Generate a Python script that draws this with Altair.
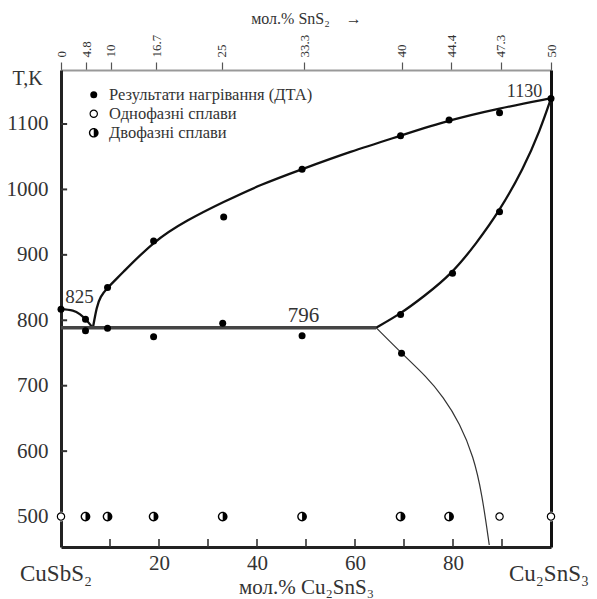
import altair as alt
import pandas as pd

# ---------------- data ----------------
# DTA results (filled dots): composition (mol.% Cu2SnS3) and temperature (K)
dta_x = [0, 5.0, 5.0, 9.5, 9.5, 18.9, 18.9, 33.2, 33.0, 49.2, 49.2, 69.3, 69.3, 69.5, 79.2, 79.9, 89.5, 89.5, 100]
dta_t = [817, 801.5, 784, 788, 850, 921, 775, 958, 795.4, 1031, 776.5, 1082, 809, 749.6, 1106, 872, 1117, 966, 1139]

# annealed alloys at 500 K
alloy_x = [0, 5.0, 9.5, 18.9, 33.0, 49.2, 69.3, 79.2, 89.5, 100]
alloy_t = [500, 500, 500, 500, 500, 500, 500, 500, 500, 500]
alloy_kind = ["one", "two", "two", "two", "two", "two", "two", "two", "one", "one"]

# thick phase-boundary curves
liq_x = [6.5, 7.3, 8.0, 9.5, 12.1, 18.9, 25.7, 33.2, 40.6, 49.2, 59.0, 69.3, 79.2, 89.5, 99.8]
liq_t = [788, 821, 836, 850, 869, 921, 953, 981, 1007, 1031, 1057.7, 1082, 1106, 1124, 1139]
left_x = [0, 2.4, 3.9, 5.0, 6.0, 6.5]
left_t = [817, 814.7, 809, 801.5, 793, 788]
sol_x = [64.3, 69.1, 74.0, 79.9, 84.8, 89.4, 94.4, 97.8, 100]
sol_t = [788.7, 809, 836, 872, 918, 966, 1032, 1091, 1139]
# horizontal invariant line (796)
hor_x = [0, 64.3]
hor_t = [788.5, 788.5]
# thin solvus curve
solv_x = [64.3, 69.5, 74.6, 78.0, 81.4, 84.2, 85.9, 87.4]
solv_t = [788.7, 749.6, 713.8, 683.2, 642.6, 591.5, 535.6, 456.6]

# axes
x_domain = [0, 100]
t_domain = [453.5, 1182.5]
bottom_labels = [20, 40, 60, 80]
bottom_ticks = [10, 20, 30, 40, 50, 60, 70, 80, 90]
left_labels = [500, 600, 700, 800, 900, 1000, 1100]
left_ticks = [600, 700, 800, 900, 1000, 1100]
top_pos = [0, 5.2, 10.2, 19.4, 32.8, 49.6, 69.5, 79.6, 89.7, 100]
top_text = ["0", "4.8", "10", "16.7", "25", "33.3", "40", "44.4", "47.3", "50"]

# annotations
note_text = ["825", "796", "1130"]
note_x = [3.8, 49.5, 94.6]
note_t = [826.9, 798, 1141]
note_size = [19, 21, 18]

legend_names = ["Результати нагрівання (ДТА)", "Однофазні сплави", "Двофазні сплави"]

FONT = "Liberation Serif"
W, H = 490, 477

# ---------------- tables ----------------
pts = pd.DataFrame({
    "x": dta_x + alloy_x,
    "t": dta_t + alloy_t,
    "kind": [legend_names[0]] * len(dta_x)
    + [legend_names[1] if k == "one" else legend_names[2] for k in alloy_kind],
})
alloys = pts[pts["kind"] != legend_names[0]]

smooth = pd.concat([
    pd.DataFrame({"x": liq_x, "t": liq_t, "c": "liq"}),
    pd.DataFrame({"x": sol_x, "t": sol_t, "c": "sol"}),
])
left_df = pd.DataFrame({"x": left_x, "t": left_t})
hor = pd.DataFrame({"x": hor_x, "t": hor_t})
solv = pd.DataFrame({"x": solv_x, "t": solv_t})

ytick_df = pd.DataFrame({"t": left_ticks, "x0": 0, "x1": 1.25})
xtick_df = pd.DataFrame({"x": bottom_ticks, "t0": t_domain[0], "t1": t_domain[0] + 12.2})

xs = alt.Scale(domain=x_domain, nice=False, zero=False)
ys = alt.Scale(domain=t_domain, nice=False, zero=False)

RING = "M-1,0A1,1 0 1,0 1,0A1,1 0 1,0 -1,0Z M-0.72,0A0.72,0.72 0 1,1 0.72,0A0.72,0.72 0 1,1 -0.72,0Z"
HALF = RING + " M0,-0.72A0.72,0.72 0 0,1 0,0.72Z"

x_bottom = alt.Axis(
    orient="bottom", values=bottom_labels, ticks=False, grid=False,
    domainColor="#222", domainWidth=3, labelFont=FONT, labelFontSize=21,
    labelColor="#333", labelPadding=5, labelBaseline="top",
    title="мол.% Cu₂SnS₃", titleFont=FONT, titleFontSize=21, titleFontWeight="normal",
    titleColor="#333", titleBaseline="alphabetic", titleY=46,
)
y_left = alt.Axis(
    orient="left", values=left_labels, ticks=False, grid=False, format="d",
    domainColor="#222", domainWidth=3, labelFont=FONT, labelFontSize=21,
    labelColor="#333", labelPadding=13,
    title="T,K", titleFont=FONT, titleFontSize=20, titleFontWeight="normal",
    titleColor="#333", titleAngle=0, titleAlign="center", titleBaseline="middle",
    titleX=-34, titleY=8,
)
pos_list = ",".join(str(v) for v in top_pos)
txt_list = ",".join("'" + s + "'" for s in top_text)
x_top = alt.Axis(
    orient="top", values=top_pos, grid=False,
    labelExpr=f"[{txt_list}][indexof([{pos_list}], datum.value)]",
    domainColor="#999", domainWidth=2, tickColor="#555", tickWidth=1.2, tickSize=8,
    labelAngle=270, labelAlign="left", labelBaseline="middle", labelPadding=5,
    labelFont=FONT, labelFontSize=13, labelColor="#333",
    title="мол.% SnS₂\u2002\u2002→", titleFont=FONT, titleFontSize=16,
    titleFontWeight="normal", titleColor="#333", titleBaseline="middle", titleY=-52,
)
y_right = alt.Axis(orient="right", labels=False, ticks=False, grid=False,
                   domainColor="#111", domainWidth=3, title=None)

smooth_layer = alt.Chart(smooth).mark_line(interpolate="basis", color="#111", strokeWidth=2.3).encode(
    x=alt.X("x:Q", scale=xs, axis=x_bottom),
    y=alt.Y("t:Q", scale=ys, axis=y_left),
    detail="c:N",
    order="x:Q",
)
left_layer = alt.Chart(left_df).mark_line(interpolate="monotone", color="#111", strokeWidth=2.3).encode(
    x=alt.X("x:Q", scale=xs, axis=None), y=alt.Y("t:Q", scale=ys, axis=None), order="x:Q"
)
hor_layer = alt.Chart(hor).mark_line(color="#444", strokeWidth=3.5).encode(
    x=alt.X("x:Q", scale=xs, axis=None), y=alt.Y("t:Q", scale=ys, axis=None)
)
solv_layer = alt.Chart(solv).mark_line(interpolate="basis", color="#333", strokeWidth=1.2).encode(
    x=alt.X("x:Q", scale=xs, axis=None), y=alt.Y("t:Q", scale=ys, axis=None), order="x:Q"
)
ytick_layer = alt.Chart(ytick_df).mark_rule(color="#333", strokeWidth=2).encode(
    x=alt.X("x0:Q", scale=xs, axis=x_top), x2="x1:Q",
    y=alt.Y("t:Q", scale=ys, axis=y_right),
)
xtick_layer = alt.Chart(xtick_df).mark_rule(color="#333", strokeWidth=1.6).encode(
    x=alt.X("x:Q", scale=xs, axis=None),
    y=alt.Y("t0:Q", scale=ys, axis=None), y2="t1:Q",
)
white_layer = alt.Chart(alloys).mark_point(shape="circle", filled=True, color="white", opacity=1, size=95).encode(
    x=alt.X("x:Q", scale=xs, axis=None), y=alt.Y("t:Q", scale=ys, axis=None)
)
legend_spec = alt.Legend(
    orient="none", legendX=24.5, legendY=16.5, title=None, padding=0,
    labelFont=FONT, labelFontSize=16.5, labelColor="#333", labelLimit=0,
    rowPadding=2, labelOffset=7,
    symbolFillColor="black", symbolStrokeWidth=0, symbolOpacity=1,
)
pt_layer = alt.Chart(pts).mark_point(filled=True, color="black", opacity=1, strokeWidth=0).encode(
    x=alt.X("x:Q", scale=xs, axis=None),
    y=alt.Y("t:Q", scale=ys, axis=None),
    shape=alt.Shape("kind:N", scale=alt.Scale(domain=legend_names, range=["circle", RING, HALF]),
                    legend=legend_spec),
    size=alt.Size("kind:N", scale=alt.Scale(domain=legend_names, range=[49, 95, 95]),
                  legend=legend_spec),
)

note_layers = []
for lab, nx, nt, fs in zip(note_text, note_x, note_t, note_size):
    d = pd.DataFrame({"label": [lab], "x": [nx], "t": [nt]})
    note_layers.append(
        alt.Chart(d).mark_text(font=FONT, fontSize=fs, color="#333", baseline="alphabetic", align="center").encode(
            x=alt.X("x:Q", scale=xs, axis=None),
            y=alt.Y("t:Q", scale=ys, axis=None),
            text="label:N",
        )
    )

corner_df = pd.DataFrame({"label": ["CuSbS₂", "Cu₂SnS₃"], "x": [0, 100]})
corner_left = alt.Chart(corner_df.iloc[[0]]).mark_text(
    font=FONT, fontSize=23, color="#333", align="center", baseline="alphabetic", dx=-5
).encode(x=alt.X("x:Q", scale=xs, axis=None), y=alt.value(511), text="label:N")
corner_right = alt.Chart(corner_df.iloc[[1]]).mark_text(
    font=FONT, fontSize=23, color="#333", align="left", baseline="alphabetic", dx=-42
).encode(x=alt.X("x:Q", scale=xs, axis=None), y=alt.value(511), text="label:N")

chart = alt.layer(
    smooth_layer, left_layer, hor_layer, solv_layer, ytick_layer, xtick_layer,
    white_layer, pt_layer, *note_layers, corner_left, corner_right,
).resolve_axis(x="independent", y="independent").properties(
    width=W, height=H,
    autosize=alt.AutoSizeParams(type="none"),
    padding={"left": 61, "top": 70, "right": 46, "bottom": 52},
    background="white",
).configure_view(stroke=None)

chart.save("out.html", embed_options={"renderer": "svg", "actions": False})
